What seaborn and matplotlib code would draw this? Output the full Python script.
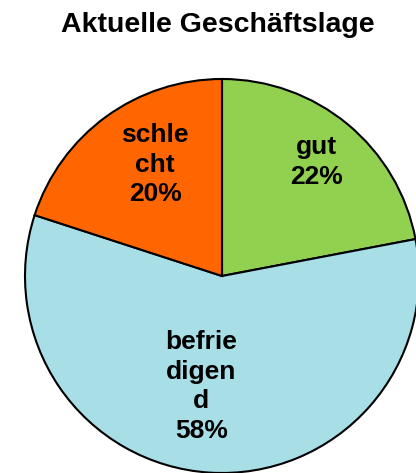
import numpy as np
import matplotlib
matplotlib.use("Agg")
import matplotlib.pyplot as plt
import seaborn as sns

sns.set_style("white")
plt.rcParams['font.family'] = ['Liberation Sans', 'DejaVu Sans']
plt.rcParams['text.color'] = 'black'

#####################
### Data
#####################

categories = ["gut", "befriedigend", "schlecht"]
label_texts = ["gut", "befrie\ndigen\nd", "schle\ncht"]
shares = [22, 58, 20]
colors = ["#92D050", "#A8DEE6", "#FF6600"]

# label placement (fraction of radius, angle tweak in deg)
label_r = [0.75, 0.57, 0.66]
label_dang = [0, -7, -5]

#####################
### Plot
#####################

fig = plt.figure(figsize=(4.16, 4.73), dpi=100)
R = 197
ax = fig.add_axes([(222 - R * 1.02) / 416, (473 - 276 - R * 1.02) / 473,
                   2 * R * 1.02 / 416, 2 * R * 1.02 / 473])

wedges, _ = ax.pie(shares, colors=colors, startangle=90, counterclock=False,
                   wedgeprops=dict(edgecolor="black", linewidth=1.5))

for w, txt, val, rr, da in zip(wedges, label_texts, shares, label_r, label_dang):
    ang = np.deg2rad((w.theta1 + w.theta2) / 2 + da)
    ax.text(rr * np.cos(ang), rr * np.sin(ang), "%s\n%d%%" % (txt, val),
            ha="center", va="center", fontsize=19, fontweight="bold",
            linespacing=1.3, color="black")

ax.set_xlim(-1.02, 1.02)
ax.set_ylim(-1.02, 1.02)
ax.set_aspect("equal")
ax.axis("off")

fig.text(218 / 416, 1 - 25 / 473, "Aktuelle Geschäftslage", ha="center", va="center",
         fontsize=20.5, fontweight="bold", color="black")

fig.savefig("out.png", dpi=100)
